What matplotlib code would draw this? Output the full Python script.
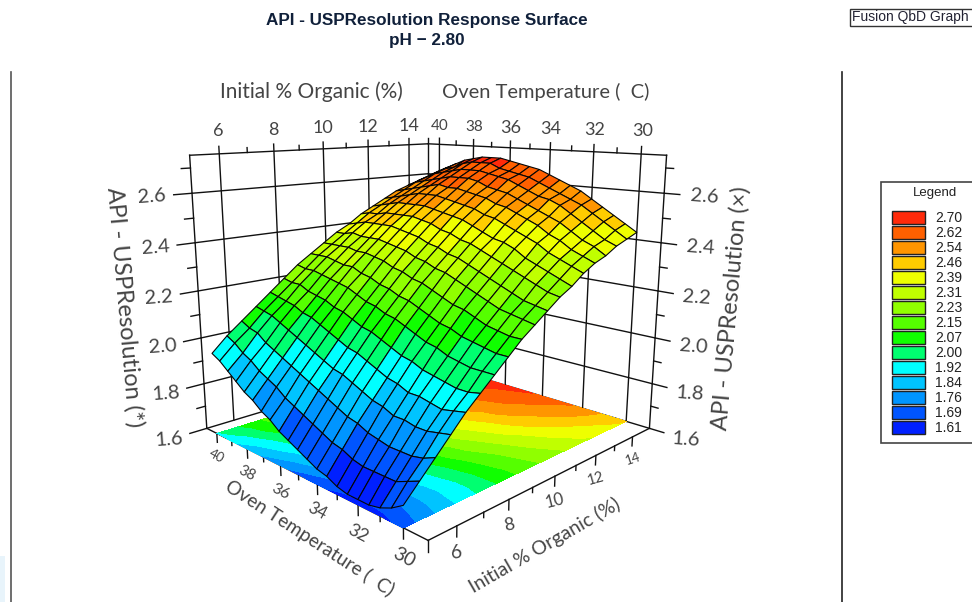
import numpy as np
import matplotlib
matplotlib.use("Agg")
import matplotlib.pyplot as plt
from matplotlib.colors import ListedColormap, BoundaryNorm
from matplotlib.patches import Rectangle
from mpl_toolkits.mplot3d import proj3d

organic = np.linspace(5, 15, 19)
oven_temp = np.arange(30, 40.5, 0.5)

# response, one row per oven temperature (30 -> 40)
resolution = np.array([
    [1.68, 1.74, 1.80, 1.86, 1.92, 1.97, 2.02, 2.07, 2.12, 2.16, 2.20, 2.24, 2.27, 2.31, 2.34, 2.36, 2.39, 2.41, 2.43],
    [1.65, 1.72, 1.78, 1.85, 1.91, 1.96, 2.02, 2.07, 2.12, 2.17, 2.21, 2.25, 2.29, 2.33, 2.36, 2.39, 2.41, 2.44, 2.46],
    [1.63, 1.70, 1.77, 1.84, 1.90, 1.96, 2.02, 2.08, 2.13, 2.18, 2.22, 2.27, 2.31, 2.35, 2.38, 2.41, 2.44, 2.47, 2.49],
    [1.62, 1.70, 1.77, 1.84, 1.91, 1.97, 2.03, 2.09, 2.14, 2.19, 2.24, 2.29, 2.33, 2.37, 2.41, 2.44, 2.47, 2.50, 2.52],
    [1.62, 1.70, 1.77, 1.85, 1.92, 1.98, 2.04, 2.10, 2.16, 2.21, 2.26, 2.31, 2.35, 2.40, 2.43, 2.47, 2.50, 2.53, 2.55],
    [1.62, 1.70, 1.78, 1.85, 1.92, 1.99, 2.06, 2.12, 2.18, 2.23, 2.28, 2.33, 2.38, 2.42, 2.46, 2.49, 2.53, 2.55, 2.58],
    [1.63, 1.71, 1.79, 1.87, 1.94, 2.01, 2.07, 2.13, 2.19, 2.25, 2.30, 2.35, 2.40, 2.44, 2.48, 2.51, 2.55, 2.57, 2.60],
    [1.65, 1.73, 1.81, 1.88, 1.95, 2.02, 2.09, 2.15, 2.21, 2.27, 2.32, 2.37, 2.41, 2.46, 2.50, 2.53, 2.56, 2.59, 2.62],
    [1.66, 1.74, 1.82, 1.90, 1.97, 2.04, 2.11, 2.17, 2.23, 2.29, 2.34, 2.39, 2.43, 2.48, 2.52, 2.55, 2.58, 2.61, 2.64],
    [1.68, 1.76, 1.84, 1.92, 1.99, 2.06, 2.13, 2.19, 2.25, 2.30, 2.35, 2.40, 2.45, 2.49, 2.53, 2.57, 2.60, 2.63, 2.66],
    [1.70, 1.78, 1.86, 1.94, 2.01, 2.08, 2.14, 2.20, 2.26, 2.32, 2.37, 2.42, 2.47, 2.51, 2.55, 2.58, 2.62, 2.64, 2.67],
    [1.72, 1.80, 1.88, 1.95, 2.02, 2.09, 2.16, 2.22, 2.28, 2.33, 2.38, 2.43, 2.48, 2.52, 2.56, 2.59, 2.63, 2.65, 2.68],
    [1.74, 1.82, 1.90, 1.97, 2.04, 2.11, 2.17, 2.23, 2.29, 2.35, 2.40, 2.45, 2.49, 2.53, 2.57, 2.61, 2.64, 2.66, 2.69],
    [1.77, 1.84, 1.92, 1.99, 2.06, 2.13, 2.19, 2.25, 2.31, 2.36, 2.41, 2.46, 2.50, 2.54, 2.58, 2.62, 2.65, 2.68, 2.70],
    [1.79, 1.87, 1.94, 2.01, 2.08, 2.14, 2.21, 2.26, 2.32, 2.37, 2.42, 2.47, 2.51, 2.55, 2.58, 2.62, 2.65, 2.68, 2.70],
    [1.82, 1.89, 1.96, 2.03, 2.10, 2.16, 2.22, 2.28, 2.33, 2.38, 2.43, 2.47, 2.51, 2.55, 2.59, 2.62, 2.65, 2.68, 2.70],
    [1.84, 1.91, 1.98, 2.05, 2.11, 2.17, 2.23, 2.28, 2.33, 2.38, 2.43, 2.47, 2.51, 2.55, 2.58, 2.61, 2.64, 2.67, 2.69],
    [1.87, 1.94, 2.00, 2.07, 2.13, 2.18, 2.24, 2.29, 2.34, 2.38, 2.43, 2.47, 2.51, 2.54, 2.57, 2.60, 2.63, 2.65, 2.68],
    [1.90, 1.96, 2.03, 2.09, 2.14, 2.20, 2.25, 2.30, 2.34, 2.39, 2.43, 2.46, 2.50, 2.53, 2.56, 2.59, 2.62, 2.64, 2.66],
    [1.93, 1.99, 2.04, 2.10, 2.15, 2.20, 2.25, 2.30, 2.34, 2.38, 2.42, 2.46, 2.49, 2.52, 2.55, 2.58, 2.60, 2.62, 2.64],
    [1.95, 2.01, 2.06, 2.11, 2.16, 2.21, 2.26, 2.30, 2.34, 2.38, 2.41, 2.45, 2.48, 2.51, 2.54, 2.56, 2.58, 2.60, 2.62],
])

legend_levels = [2.70, 2.62, 2.54, 2.46, 2.39, 2.31, 2.23, 2.15, 2.07, 2.00, 1.92, 1.84, 1.76, 1.69, 1.61]
legend_colors = ["#ff2a0a", "#ff6000", "#ff9500", "#ffcc00", "#eeff00", "#c0ff00", "#90ff00", "#55ff00",
                 "#10ff00", "#00ff70", "#00ffff", "#00c4ff", "#0095ff", "#0055ff", "#0020ff"]

organic_ticks = [6, 8, 10, 12, 14]
temp_ticks = [30, 32, 34, 36, 38, 40]
z_ticks = [1.6, 1.8, 2.0, 2.2, 2.4, 2.6]

org_lo, org_hi = 5.0, 15.0
t_lo, t_hi = 29.0, 40.7
z_lo, z_hi = 1.6, 2.75

TICK_FONT = {"family": "Lato", "color": "#444444"}

fig = plt.figure(figsize=(9.72, 6.02), dpi=100)
ax = fig.add_axes([120 / 972, -3 / 602, 600 / 972, 600 / 602], projection="3d", computed_zorder=False)
ax.set_proj_type("persp", focal_length=0.26)
ax.view_init(elev=13, azim=-135)
ax.set_box_aspect((1.16, 1.16, 1.0), zoom=0.87)
ax.set_xlim(org_lo, org_hi, view_margin=0)
ax.set_ylim(t_lo, t_hi, view_margin=0)
ax.set_zlim(z_lo, z_hi, view_margin=0)
ax.set_axis_off()
ax.patch.set_alpha(0)


def line3(xs, ys, zs, lw=1.0):
    ax.plot(xs, ys, zs, color="#111111", lw=lw, zorder=1)


# back walls
for o in organic_ticks:
    line3([o, o], [t_hi, t_hi], [z_lo, z_hi + 0.03])
for t in temp_ticks:
    line3([org_hi, org_hi], [t, t], [z_lo, z_hi + 0.03])
for z in z_ticks:
    line3([org_lo, org_hi], [t_hi, t_hi], [z, z])
    line3([org_hi, org_hi], [t_lo, t_hi], [z, z])
    line3([org_lo - 0.6, org_lo], [t_hi, t_hi], [z, z])
    line3([org_hi, org_hi], [t_lo - 0.6, t_lo], [z, z])
for z in [1.7, 1.9, 2.1, 2.3, 2.5, 2.7]:
    line3([org_lo - 0.3, org_lo], [t_hi, t_hi], [z, z])
    line3([org_hi, org_hi], [t_lo - 0.3, t_lo], [z, z])
line3([org_lo, org_lo], [t_hi, t_hi], [z_lo, z_hi])
line3([org_hi, org_hi], [t_lo, t_lo], [z_lo, z_hi])
line3([org_hi, org_hi], [t_hi, t_hi], [z_lo, z_hi + 0.03])
line3([org_lo, org_hi], [t_hi, t_hi], [z_hi, z_hi])
line3([org_hi, org_hi], [t_lo, t_hi], [z_hi, z_hi])
for o in [7, 9, 11, 13]:
    line3([o, o], [t_hi, t_hi], [z_hi, z_hi + 0.02])
for t in [31, 33, 35, 37, 39]:
    line3([org_hi, org_hi], [t, t], [z_hi, z_hi + 0.02])

# front floor edges, ticks hang straight down
line3([org_lo, org_lo], [t_lo, t_hi], [z_lo, z_lo])
line3([org_lo, org_hi], [t_lo, t_lo], [z_lo, z_lo])
for t in temp_ticks:
    line3([org_lo, org_lo], [t, t], [z_lo, z_lo - 0.04])
for o in organic_ticks:
    line3([o, o], [t_lo, t_lo], [z_lo, z_lo - 0.04])
line3([org_lo, org_lo], [t_lo, t_lo], [z_lo, z_lo - 0.04])
for t in [31, 33, 35, 37, 39]:
    line3([org_lo, org_lo], [t, t], [z_lo, z_lo - 0.02])
for o in [7, 9, 11, 13]:
    line3([o, o], [t_lo, t_lo], [z_lo, z_lo - 0.02])

# colour map built from the legend, bands centred on the levels
levels_up = legend_levels[::-1]
colors_up = legend_colors[::-1]
bounds = [1.50] + [(a + b) / 2 for a, b in zip(levels_up[:-1], levels_up[1:])] + [2.80]
cmap = ListedColormap(colors_up)
norm = BoundaryNorm(bounds, cmap.N)

O, T = np.meshgrid(organic, oven_temp)
ax.contourf(O, T, resolution, levels=bounds, colors=colors_up, zdir="z", offset=z_lo, zorder=2)
ax.plot_surface(O, T, resolution, facecolors=cmap(norm(resolution)), rstride=1, cstride=1,
                shade=False, edgecolor="#050505", linewidth=0.8, antialiased=True, zorder=3)

ax.apply_aspect()
W, H = fig.get_size_inches() * fig.dpi


def label3(x, y, z, text, drop=0, **kw):
    # place a flat text at the projected position of a 3d point, drop px lower
    px, py, _ = proj3d.proj_transform(x, y, z, ax.get_proj())
    dx, dy = ax.transData.transform((px, py))
    fig.text(dx / W, (dy - drop) / H, text, ha="center", va="center", **kw)


# tick labels
for o in organic_ticks:
    label3(o, t_hi, z_hi + 0.09, str(o), fontsize=13, **TICK_FONT)
for o, size, rot in zip(organic_ticks, [14, 13, 12, 10.5, 9.5], [10, 12, 14, 16, 18]):
    label3(o, t_lo, z_lo, str(o), drop=27 - (o - 6) * 0.6, fontsize=size, rotation=rot, **TICK_FONT)
for t in temp_ticks:
    label3(org_hi, t, z_hi + 0.09, str(t), fontsize=13 if t < 37 else 11, **TICK_FONT)
for t, size in zip(temp_ticks, [14, 13, 12, 11.5, 10.5, 9.5]):
    label3(org_lo, t, z_lo, str(t), drop=30 - (t - 30) * 0.7, fontsize=size, rotation=-28, **TICK_FONT)
for z in z_ticks:
    label3(org_lo - 1.3, t_hi, z, f"{z:.1f}", fontsize=14.5, rotation=4, **TICK_FONT)
    label3(org_hi, t_lo - 1.5, z, f"{z:.1f}", fontsize=14.5, rotation=-4, **TICK_FONT)

# flat overlay in image pixels for titles, frame lines and the legend
ov = fig.add_axes([0, 0, 1, 1])
ov.set_xlim(0, 972)
ov.set_ylim(602, 0)
ov.axis("off")
ov.patch.set_alpha(0)

ov.text(427, 21, "API - USPResolution Response Surface", ha="center", va="center",
        family="Liberation Sans", weight="bold", fontsize=12.3, color="#10203a")
ov.text(427, 40, "pH \u2212 2.80", ha="center", va="center",
        family="Liberation Sans", weight="bold", fontsize=12.3, color="#10203a")

ov.plot([11, 11], [72, 602], color="#555555", lw=1.2)
ov.plot([842, 842], [72, 602], color="#222222", lw=1.2)
ov.add_patch(Rectangle((0, 556), 5, 46, fc="#e8f4fb", ec="none"))

ov.add_patch(Rectangle((850, 9), 125, 17, fc="white", ec="#333333", lw=1))
ov.text(852, 17, "Fusion QbD Graph", ha="left", va="center", family="Liberation Sans",
        fontsize=10, color="#222233")

ov.add_patch(Rectangle((881, 182), 95, 261, fc="white", ec="#444444", lw=1.2))
ov.text(935, 193, "Legend", ha="center", va="center", family="Liberation Sans", fontsize=9.5, color="#222222")
for i, (lev, col) in enumerate(zip(legend_levels, legend_colors)):
    y = 211 + i * 15
    ov.add_patch(Rectangle((892, y), 33, 13, fc=col, ec="#222222", lw=1))
    ov.text(935, y + 7, f"{lev:.2f}", ha="left", va="center", family="Liberation Sans",
            fontsize=10, color="#222222")

# axis titles
title_font = {"family": "Lato", "color": "#444444"}
ov.text(311, 92, "Initial % Organic (%)", ha="center", va="center", fontsize=15, **title_font)
ov.text(546, 92, "Oven Temperature (  C)", ha="center", va="center", fontsize=14.5, **title_font)
ov.text(125, 307, "API - USPResolution (*)", ha="center", va="center", rotation=-85, fontsize=17, **title_font)
ov.text(731, 308, "API - USPResolution (\u00d7)", ha="center", va="center", rotation=85, fontsize=17, **title_font)
ov.text(310, 538, "Oven Temperature (  C)", ha="center", va="center", rotation=-33, fontsize=13.8, **title_font)
ov.text(545, 545, "Initial % Organic (%)", ha="center", va="center", rotation=30, fontsize=14, **title_font)

fig.savefig("out.png", dpi=100)
